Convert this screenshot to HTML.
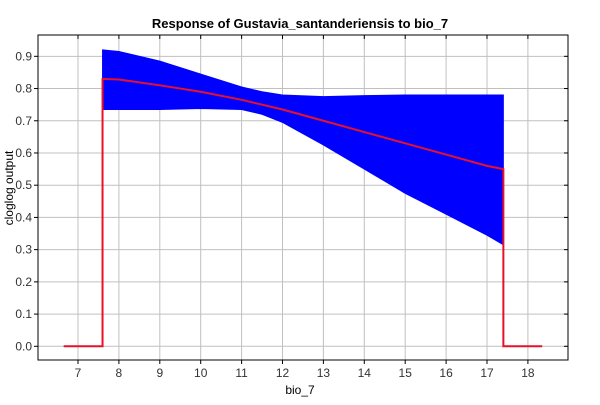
<!DOCTYPE html>
<html><head><meta charset="utf-8"><style>
body{margin:0;background:#fff;font-family:"Liberation Sans",sans-serif;}
text{font-family:"Liberation Sans",sans-serif;}
</style></head><body>
<svg id="chart" width="600" height="400">
<rect width="600" height="400" fill="#fff"/>
<text x="300" y="28" text-anchor="middle" font-size="13" font-weight="bold">Response of Gustavia_santanderiensis to bio_7</text>
<text x="300" y="394" text-anchor="middle" font-size="12">bio_7</text>
<text transform="translate(13,188) rotate(-90)" text-anchor="middle" font-size="12">cloglog output</text>
<g id="grid"></g><g id="marks"></g><g id="axes"></g>
</svg>
<script>
const xTicks=[7,8,9,10,11,12,13,14,15,16,17,18];
const yTicks=[0,0.1,0.2,0.3,0.4,0.5,0.6,0.7,0.8,0.9];
const bandX=[7.6,8,9,10,11,11.5,12,13,14,15,16,17,17.4];
const upperVals=[0.92,0.915,0.885,0.845,0.805,0.79,0.78,0.775,0.778,0.78,0.78,0.78,0.78];
const lowerVals=[0.735,0.735,0.735,0.738,0.735,0.72,0.695,0.625,0.55,0.475,0.41,0.345,0.315];
const meanX=[6.65,7.6,7.6,8,9,10,11,12,13,14,15,16,17,17.4,17.4,18.35];
const meanVals=[0,0,0.83,0.828,0.81,0.79,0.765,0.735,0.70,0.665,0.63,0.595,0.56,0.55,0,0];
const L=38,R=568,T=35,B=360;
const sx=v=>78+(v-7)*40.9;
const sy=v=>346.3-v*322.2;
const NS="http://www.w3.org/2000/svg";
function mk(tag,attrs,parent){const e=document.createElementNS(NS,tag);for(const k in attrs)e.setAttribute(k,attrs[k]);parent.appendChild(e);return e;}
const grid=document.getElementById('grid'),marks=document.getElementById('marks'),axes=document.getElementById('axes');
xTicks.forEach(t=>{
 const g=mk('line',{x1:sx(t),x2:sx(t),y1:T,y2:B,stroke:'#c0c0c0'},grid);
 
 
 mk('line',{x1:sx(t),x2:sx(t),y1:B,y2:B+4,stroke:'#000'},axes);
 mk('line',{x1:sx(t),x2:sx(t),y1:T,y2:T+4,stroke:'#000'},axes);
 const tx=mk('text',{x:sx(t),y:B+17,'text-anchor':'middle','font-size':12,fill:'#333'},axes);
 tx.textContent=t;
 
 
});
yTicks.forEach(t=>{
 const g=mk('line',{x1:L,x2:R,y1:sy(t),y2:sy(t),stroke:'#c0c0c0'},grid);
 
 
 mk('line',{x1:L-4,x2:L,y1:sy(t),y2:sy(t),stroke:'#000'},axes);
 mk('line',{x1:R-4,x2:R,y1:sy(t),y2:sy(t),stroke:'#000'},axes);
 const tx=mk('text',{x:L-6,y:sy(t)+4,'text-anchor':'end','font-size':12,fill:'#333'},axes);
 tx.textContent=t.toFixed(1);
 
 
});
const frame=mk('rect',{x:L,y:T,width:R-L,height:B-T,fill:'none',stroke:'#000'},axes);


let d='M'+bandX.map((x,i)=>sx(x)+','+sy(upperVals[i])).join('L');
for(let i=bandX.length-1;i>=0;i--)d+='L'+sx(bandX[i])+','+sy(lowerVals[i]);
d+='Z';
const band=mk('path',{d:d,fill:'#0000ff',stroke:'#0000ff','stroke-width':1},marks);


const line=mk('polyline',{points:meanX.map((x,i)=>sx(x)+','+sy(meanVals[i])).join(' '),fill:'none',stroke:'#e8102a','stroke-width':2},marks);


</script>
</body></html>
